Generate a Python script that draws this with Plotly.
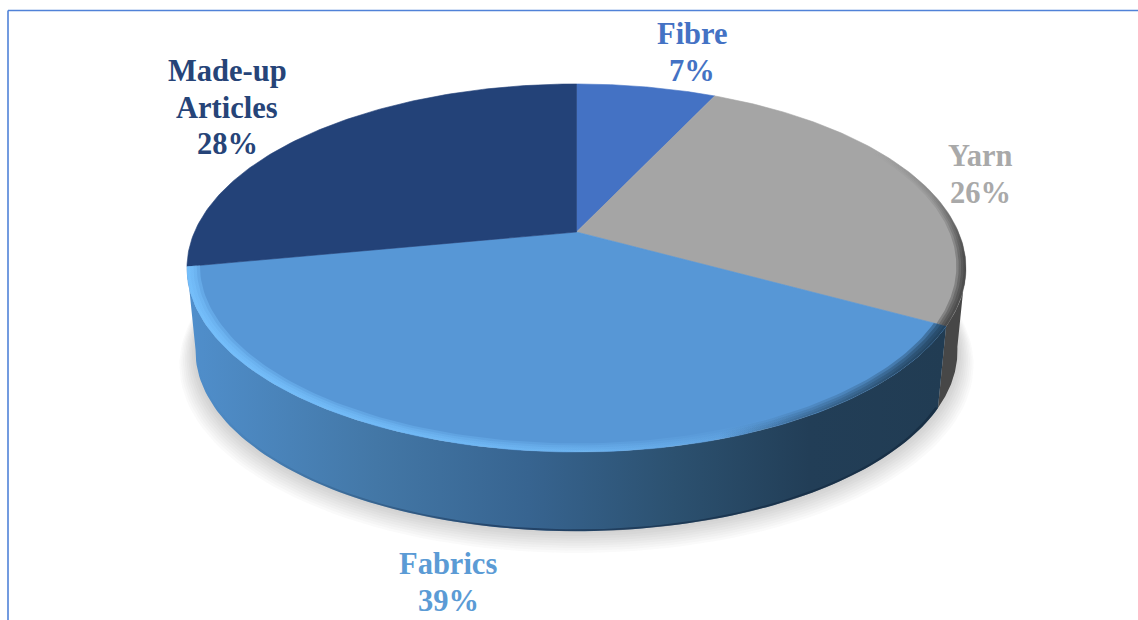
import numpy as np
import plotly.graph_objects as go

categories = ["Fibre", "Yarn", "Fabrics", "Made-up<br>Articles"]
values = [7, 26, 39, 28]
top_colors = ["#4472C4", "#A5A5A5", "#5797D6", "#234278"]
label_colors = ["#4472C4", "#A9A9A9", "#5B9BD5", "#264478"]
label_x = [692, 980, 448, 227]
label_line_y = [[34, 71], [156, 193], [564, 601], [71, 108, 144]]

CX, CY, AX, BY, P = 576.5, 232.0, 382.0, 177.0, 0.1957
WALL_SCALE, WALL_DY = 0.978, 84.0


def project(theta_deg, r=1.0, scale=1.0, dy=0.0):
    t = np.radians(theta_deg)
    x, y = r * np.sin(t), r * np.cos(t)
    w = 1 + P * y
    return CX + scale * AX * x / w, CY + dy - scale * BY * y / w


def arc(a, b, n=120, **kw):
    return project(np.linspace(a, b, n), **kw)


def band(a, b, r0=1.0, r1=0.98, **kw):
    x0, y0 = arc(a, b, r=r0, **kw)
    x1, y1 = arc(b, a, r=r1, **kw)
    return np.r_[x0, x1], np.r_[y0, y1]


def poly(x, y, **kw):
    return go.Scatter(x=x, y=y, mode="lines", fill="toself", hoverinfo="skip",
                      line=dict(width=0), showlegend=False, **kw)


fracs = np.array(values) / sum(values) * 360
edges = np.r_[0, np.cumsum(fracs)]
fig = go.Figure()

# soft drop shadow under the pie
for k in range(10):
    r = 1.0 + 0.0045 * k
    x, y = arc(60, 300, r=r, scale=WALL_SCALE, dy=WALL_DY + 1.2 * k)
    fig.add_trace(poly(x, y, fillcolor="rgba(60,60,60,0.027)"))

# side walls: Yarn (visible part) and Fabrics
xt, yt = arc(100, edges[2])
xb, yb = arc(edges[2], 100, scale=WALL_SCALE, dy=WALL_DY)
fig.add_trace(poly(np.r_[xt, xb], np.r_[yt, yb], fillcolor="#474747"))

xt, yt = arc(edges[2], edges[3])
xb, yb = arc(edges[3], edges[2], scale=WALL_SCALE, dy=WALL_DY)
fig.add_trace(poly(np.r_[xt, xb], np.r_[yt, yb], fillgradient=dict(
    type="horizontal",
    colorscale=[[0, "#508FCC"], [0.25, "#4377A6"], [0.45, "#376490"], [0.64, "#2C5170"],
                [0.82, "#223E57"], [1, "#213C53"]])))

# bottom edge darkening on the wall
x, y = band(edges[2], edges[3], r0=1.0, r1=0.993, scale=WALL_SCALE, dy=WALL_DY)
fig.add_trace(poly(x, y, fillgradient=dict(
    type="horizontal",
    colorscale=[[0, "rgba(40,80,120,0)"], [0.4, "rgba(15,35,65,0.5)"], [1, "rgba(15,35,55,0.5)"]])))

# top faces
for i, c in enumerate(top_colors):
    xa, ya = arc(edges[i], edges[i + 1])
    fig.add_trace(go.Scatter(x=np.r_[CX, xa, CX], y=np.r_[CY, ya, CY], mode="lines", fill="toself",
                             fillcolor=c, line=dict(width=0.6, color=c), showlegend=False,
                             name=categories[i].replace("<br>", " "), hoverinfo="name"))

# soft highlight on the Fabrics rim, fading out to the right
for r1 in (0.992, 0.984, 0.976, 0.968):
    x, y = band(edges[2], edges[3], r0=1.0, r1=r1)
    fig.add_trace(poly(x, y, fillgradient=dict(
        type="horizontal",
        colorscale=[[0, "rgba(120,195,255,0.42)"], [0.5, "rgba(120,195,255,0.22)"],
                    [0.8, "rgba(120,195,255,0)"], [1, "rgba(120,195,255,0)"]])))

# soft shade where the rim meets the dark end of the wall
for r1 in (0.994, 0.986, 0.978, 0.97):
    x, y = band(edges[2], edges[3], r0=1.0, r1=r1)
    fig.add_trace(poly(x, y, fillgradient=dict(
        type="horizontal",
        colorscale=[[0, "rgba(30,60,85,0)"], [0.7, "rgba(30,60,85,0)"], [0.9, "rgba(30,60,85,0.25)"],
                    [1, "rgba(30,60,85,0.45)"]])))

# dark rim on the lower right of the Yarn edge (vertical gradients run bottom to top)
for r1 in (0.994, 0.988, 0.982, 0.976):
    x, y = band(60, edges[2], r0=1.0, r1=r1)
    fig.add_trace(poly(x, y, fillgradient=dict(
        type="vertical",
        colorscale=[[0, "rgba(50,50,50,0.3)"], [0.4, "rgba(50,50,50,0.3)"], [0.75, "rgba(60,60,60,0.08)"],
                    [1, "rgba(60,60,60,0)"]])))

for cat, v, col, lx, lys in zip(categories, values, label_colors, label_x, label_line_y):
    lines = cat.split("<br>") + [f"{v}%"]
    for line, ly in zip(lines, lys):
        fig.add_annotation(x=lx, y=ly, xref="x", yref="y", showarrow=False, align="center",
                           text=f"<b>{line}</b>",
                           font=dict(family="Liberation Serif", size=30.5, color=col))

border = dict(color="#5082D8", width=1.6)
fig.add_shape(type="line", x0=8, x1=1138, y0=10.5, y1=10.5, line=border)
fig.add_shape(type="line", x0=8, x1=8, y0=10.5, y1=620, line=border)

fig.update_layout(
    width=1138, height=620, margin=dict(l=0, r=0, t=0, b=0),
    paper_bgcolor="white", plot_bgcolor="white", showlegend=False,
    xaxis=dict(range=[0, 1138], visible=False, fixedrange=True),
    yaxis=dict(range=[620, 0], visible=False, fixedrange=True),
)
fig.write_html("out.html", config={"displayModeBar": False},
               post_script="document.body.style.margin='0';document.body.style.overflow='hidden';")
